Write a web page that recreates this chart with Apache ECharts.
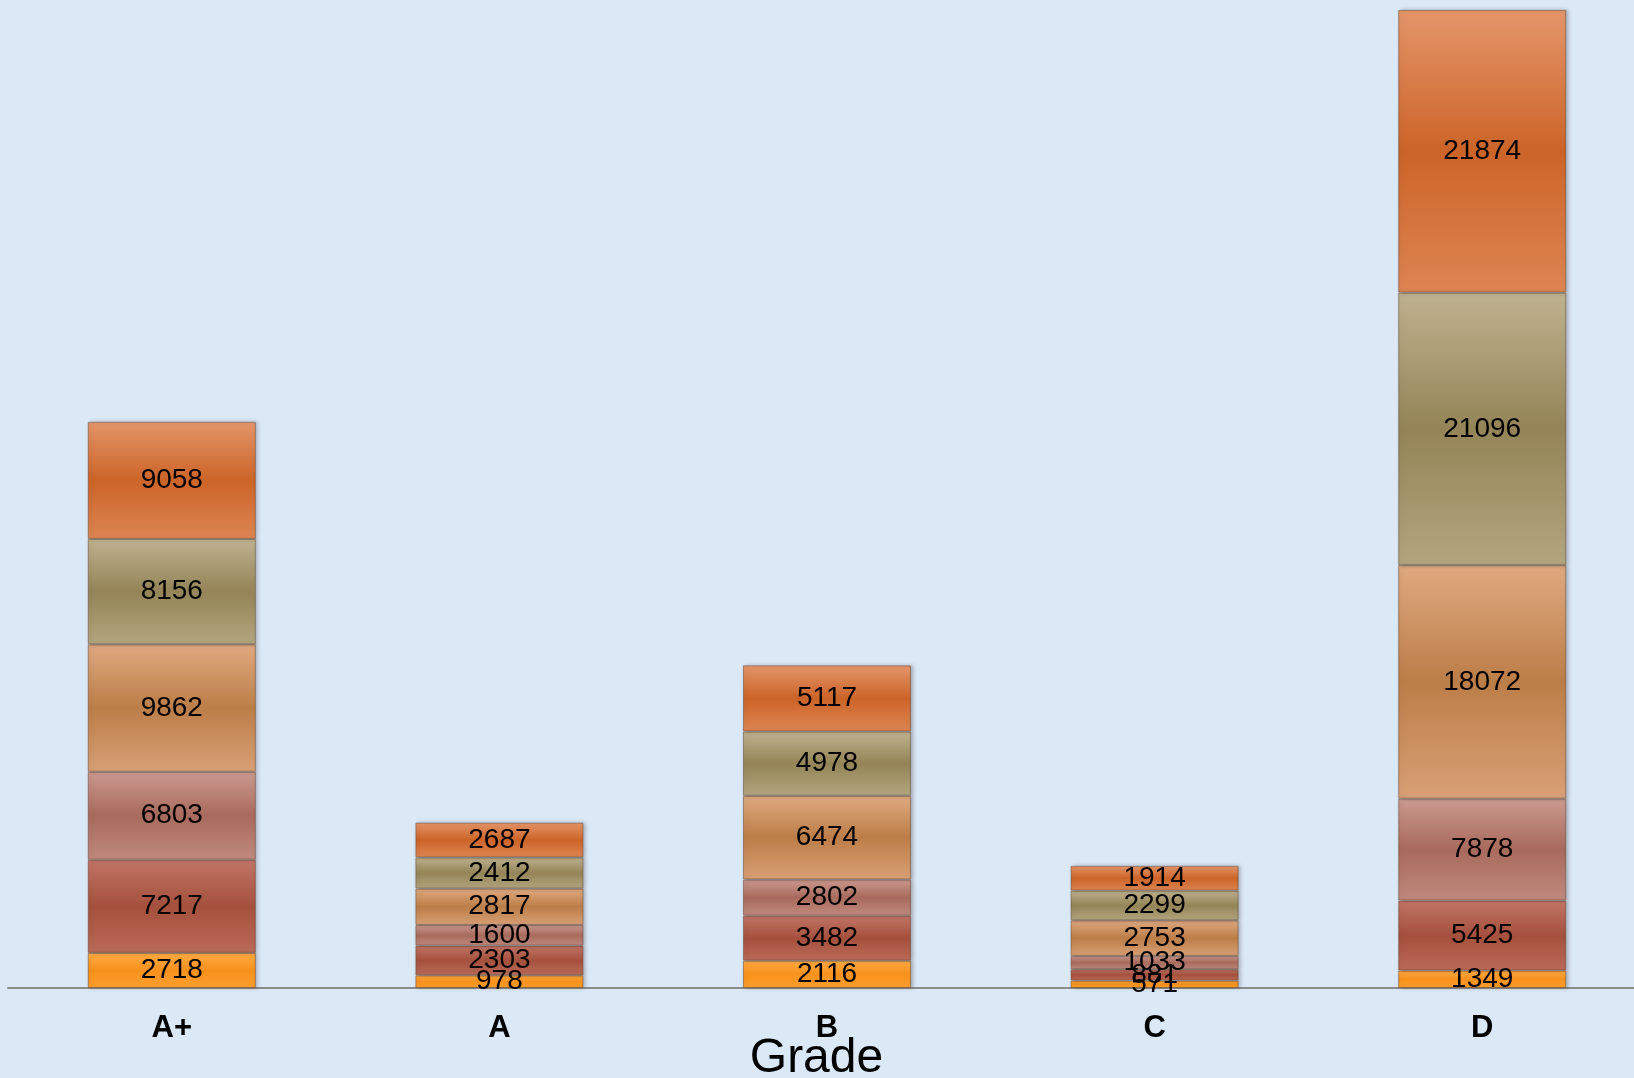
<!DOCTYPE html>
<html>
<head>
<meta charset="utf-8">
<script src="https://cdn.jsdelivr.net/npm/echarts@6/dist/echarts.min.js"></script>
<style>
html,body{margin:0;padding:0;background:#dbe8f6;overflow:hidden;}
#chart{width:1634px;height:1078px;}
</style>
</head>
<body>
<div id="chart"></div>
<script>
const categories = ['A+', 'A', 'B', 'C', 'D'];
const series1 = [2718, 978, 2116, 571, 1349];
const series2 = [7217, 2303, 3482, 881, 5425];
const series3 = [6803, 1600, 2802, 1033, 7878];
const series4 = [9862, 2817, 6474, 2753, 18072];
const series5 = [8156, 2412, 4978, 2299, 21096];
const series6 = [9058, 2687, 5117, 1914, 21874];
const seriesData = [series1, series2, series3, series4, series5, series6];
const palette = [
  ['#ffab45', '#f7911c', '#ff9f2e'],
  ['#c27566', '#a5503d', '#bb6a58'],
  ['#cc9a8f', '#a86a5c', '#c08a7e'],
  ['#dfa980', '#bc7e48', '#d9a075'],
  ['#bfb28f', '#948457', '#b3a57e'],
  ['#e4956a', '#cc6428', '#dd8552']
];

const chart = echarts.init(document.getElementById('chart'));
const series = seriesData.map((d, i) => ({
  type: 'bar',
  stack: 'total',
  data: d,
  barWidth: '51.3%',
  itemStyle: {
    color: new echarts.graphic.LinearGradient(0, 0, 0, 1, [
      {offset: 0, color: palette[i][0]},
      {offset: 0.5, color: palette[i][1]},
      {offset: 1, color: palette[i][2]}
    ]),
    borderColor: 'rgba(90,60,40,0.45)',
    borderWidth: 1,
    shadowColor: 'rgba(0,0,0,0.25)',
    shadowBlur: 4,
    shadowOffsetX: 2
  },
  label: {
    show: true,
    position: 'inside',
    color: '#000',
    fontFamily: 'Liberation Sans, Arial, sans-serif',
    fontSize: 28
  }
}));

chart.setOption({
  animation: false,
  backgroundColor: '#dbe8f6',
  grid: {left: 8, right: -12, top: 6, bottom: 90, containLabel: false, outerBoundsMode: 'none'},
  xAxis: {
    type: 'category',
    data: categories,
    name: 'Grade',
    nameLocation: 'middle',
    nameGap: 47,
    nameMoveOverlap: false,
    nameTextStyle: {fontFamily: 'Liberation Sans, Arial, sans-serif', fontSize: 48, color: '#000', padding: [0, 21, 0, 0]},
    axisLine: {lineStyle: {color: '#8c8c8c', width: 2}},
    axisTick: {show: false},
    axisLabel: {
      margin: 25,
      color: '#000',
      fontWeight: 'bold',
      fontSize: 31,
      fontFamily: 'Liberation Sans, Arial, sans-serif'
    }
  },
  yAxis: {
    type: 'value',
    min: 0,
    max: 76000,
    show: false
  },
  series: series
});
</script>
</body>
</html>
